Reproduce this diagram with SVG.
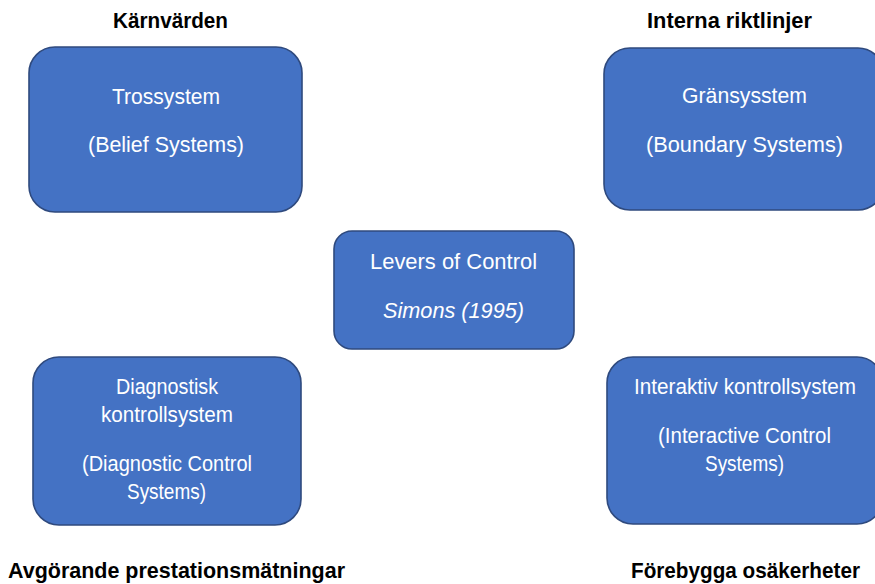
<svg xmlns="http://www.w3.org/2000/svg" width="875" height="584" viewBox="0 0 875 584">
<style>
.box{fill:#4472C4;stroke:#2F4A7E;stroke-width:1.6}
.t{font-family:"Liberation Sans",Arial,sans-serif;font-size:21.5px;fill:#FFFFFF;text-anchor:middle}
.it{font-style:italic}
.h{font-family:"Liberation Sans",Arial,sans-serif;font-size:21.5px;font-weight:bold;fill:#000000;text-anchor:middle}
</style>
<rect width="875" height="584" fill="#FFFFFF"/>
<g id="labels">
<text class="h" x="170.5" y="28" textLength="115" lengthAdjust="spacingAndGlyphs">Kärnvärden</text>
<text class="h" x="729.5" y="28" textLength="165" lengthAdjust="spacingAndGlyphs">Interna riktlinjer</text>
<text class="h" x="176.5" y="578" textLength="337" lengthAdjust="spacingAndGlyphs">Avgörande prestationsmätningar</text>
<text class="h" x="745.5" y="578" textLength="229" lengthAdjust="spacingAndGlyphs">Förebygga osäkerheter</text>
</g>
<g id="belief">
<rect class="box" x="29" y="47" width="273" height="165" rx="26"/>
<text class="t" x="166" y="104" textLength="108" lengthAdjust="spacingAndGlyphs">Trossystem</text>
<text class="t" x="166" y="152" textLength="156" lengthAdjust="spacingAndGlyphs">(Belief Systems)</text>
</g>
<g id="boundary">
<rect class="box" x="604" y="48" width="280" height="162" rx="26"/>
<text class="t" x="744.5" y="103" textLength="125" lengthAdjust="spacingAndGlyphs">Gränsysstem</text>
<text class="t" x="744.5" y="152" textLength="197" lengthAdjust="spacingAndGlyphs">(Boundary Systems)</text>
</g>
<g id="levers">
<rect class="box" x="334" y="231" width="240" height="118" rx="18"/>
<text class="t" x="453.5" y="269" textLength="167" lengthAdjust="spacingAndGlyphs">Levers of Control</text>
<text class="t it" x="453.5" y="318" textLength="141" lengthAdjust="spacingAndGlyphs">Simons (1995)</text>
</g>
<g id="diagnostic">
<rect class="box" x="33" y="357" width="268" height="168" rx="26"/>
<text class="t" x="167" y="394" textLength="102" lengthAdjust="spacingAndGlyphs">Diagnostisk</text>
<text class="t" x="167" y="422" textLength="132" lengthAdjust="spacingAndGlyphs">kontrollsystem</text>
<text class="t" x="167" y="471" textLength="170" lengthAdjust="spacingAndGlyphs">(Diagnostic Control</text>
<text class="t" x="166.5" y="499" textLength="79" lengthAdjust="spacingAndGlyphs">Systems)</text>
</g>
<g id="interactive">
<rect class="box" x="607" y="357" width="276" height="167" rx="26"/>
<text class="t" x="745" y="394" textLength="222" lengthAdjust="spacingAndGlyphs">Interaktiv kontrollsystem</text>
<text class="t" x="744.5" y="443" textLength="173" lengthAdjust="spacingAndGlyphs">(Interactive Control</text>
<text class="t" x="744.5" y="471" textLength="79" lengthAdjust="spacingAndGlyphs">Systems)</text>
</g>
<g id="connectors"></g>
</svg>
